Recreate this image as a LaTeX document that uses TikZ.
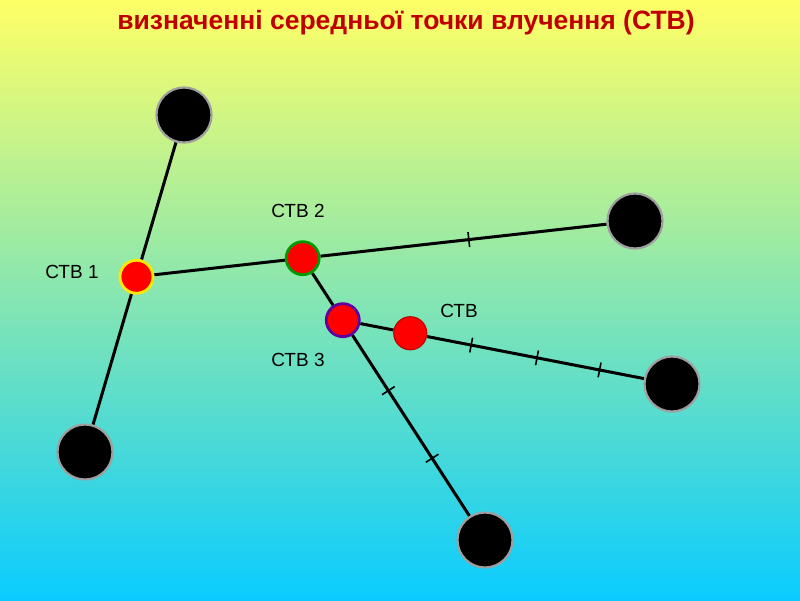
\documentclass[tikz,border=0pt]{standalone}
\usepackage{fontspec}
\setmainfont{Liberation Sans}
\usetikzlibrary{calc, positioning}
\definecolor{titlered}{RGB}{192,0,0}
\definecolor{topyellow}{RGB}{255,255,102}
\definecolor{midgreen}{RGB}{178,238,212}
\definecolor{botcyan}{RGB}{10,204,255}
\pgfdeclarelayer{back}
\pgfsetlayers{back,main}

\begin{document}
\begin{tikzpicture}[
        x=1pt, y=-1pt,
        hole/.style={circle, fill=black, draw=gray!75, line width=2.2pt, minimum size=55pt, inner sep=0pt},
        centre/.style={circle, fill=red, line width=2.8pt, minimum size=33pt, inner sep=0pt},
        tag/.style={font=\fontsize{19}{22}\selectfont, inner sep=1pt},
        mtick/.style={draw, sloped, minimum width=0pt, minimum height=15pt, inner sep=0pt, line width=1.6pt},
        link/.style={line width=3pt}
      ]
      \useasboundingbox (0,0) rectangle (800,600);

      % Title
      \node (title) [font=\bfseries\fontsize{26.5}{30}\selectfont, text=titlered] at (406,23)
        {визначенні середньої точки влучення (СТВ)};

      % Hits
      \node (h1) [hole] at (184,115) {};
      \node (h2) [hole] at (85,452) {};
      \node (h3) [hole] at (635,221) {};
      \node (h4) [hole] at (672,384) {};
      \node (h5) [hole] at (485,540) {};

      % Mean points
      \node (s1) [centre, draw=yellow!90!orange] at ($(h1)!.48!(h2)$) {};
      \node (s2) [centre, draw=green!60!black] at ($(s1)!1/3!(h3)$) {};
      \node (s3) [centre, draw=violet!75!blue] at ($(s2)!.22!(h5)$) {};
      \node (s) [centre, draw=red!75!black, line width=1.2pt] at ($(s3)!.205!(h4)$) {};

      % Labels
      \node (l1) [tag] at (72,272) {СТВ 1};
      \node (l2) [tag] at (298,211) {СТВ 2};
      \node (l3) [tag] at (298,360) {СТВ 3};
      \node (l) [tag] at (459,311) {СТВ};

      \begin{pgfonlayer}{back}
        \shade [top color=topyellow, middle color=midgreen, bottom color=botcyan] (0,0) rectangle (800,600);
        % Links
        \draw [link] (s1) -- (h1);
        \draw [link] (s1) -- (h2);
        \draw [link] (s1) -- (s2);
        \draw [link] (s2) -- (h3);
        \draw [link] (s2) -- (s3);
        \draw [link] (s3) -- (h5);
        \draw [link] (s3) -- (s);
        \draw [link] (s) -- (h4);
        % Ticks
        \path (s1.center) -- node [mtick, pos=2/3] {} (h3.center);
        \path (s2.center) -- node [mtick, pos=.47] {} node [mtick, pos=.71] {} (h5.center);
        \path (s3.center) -- node [mtick, pos=.39] {} node [mtick, pos=.59] {} node [mtick, pos=.78] {} (h4.center);
      \end{pgfonlayer}

    \end{tikzpicture}
\end{document}
